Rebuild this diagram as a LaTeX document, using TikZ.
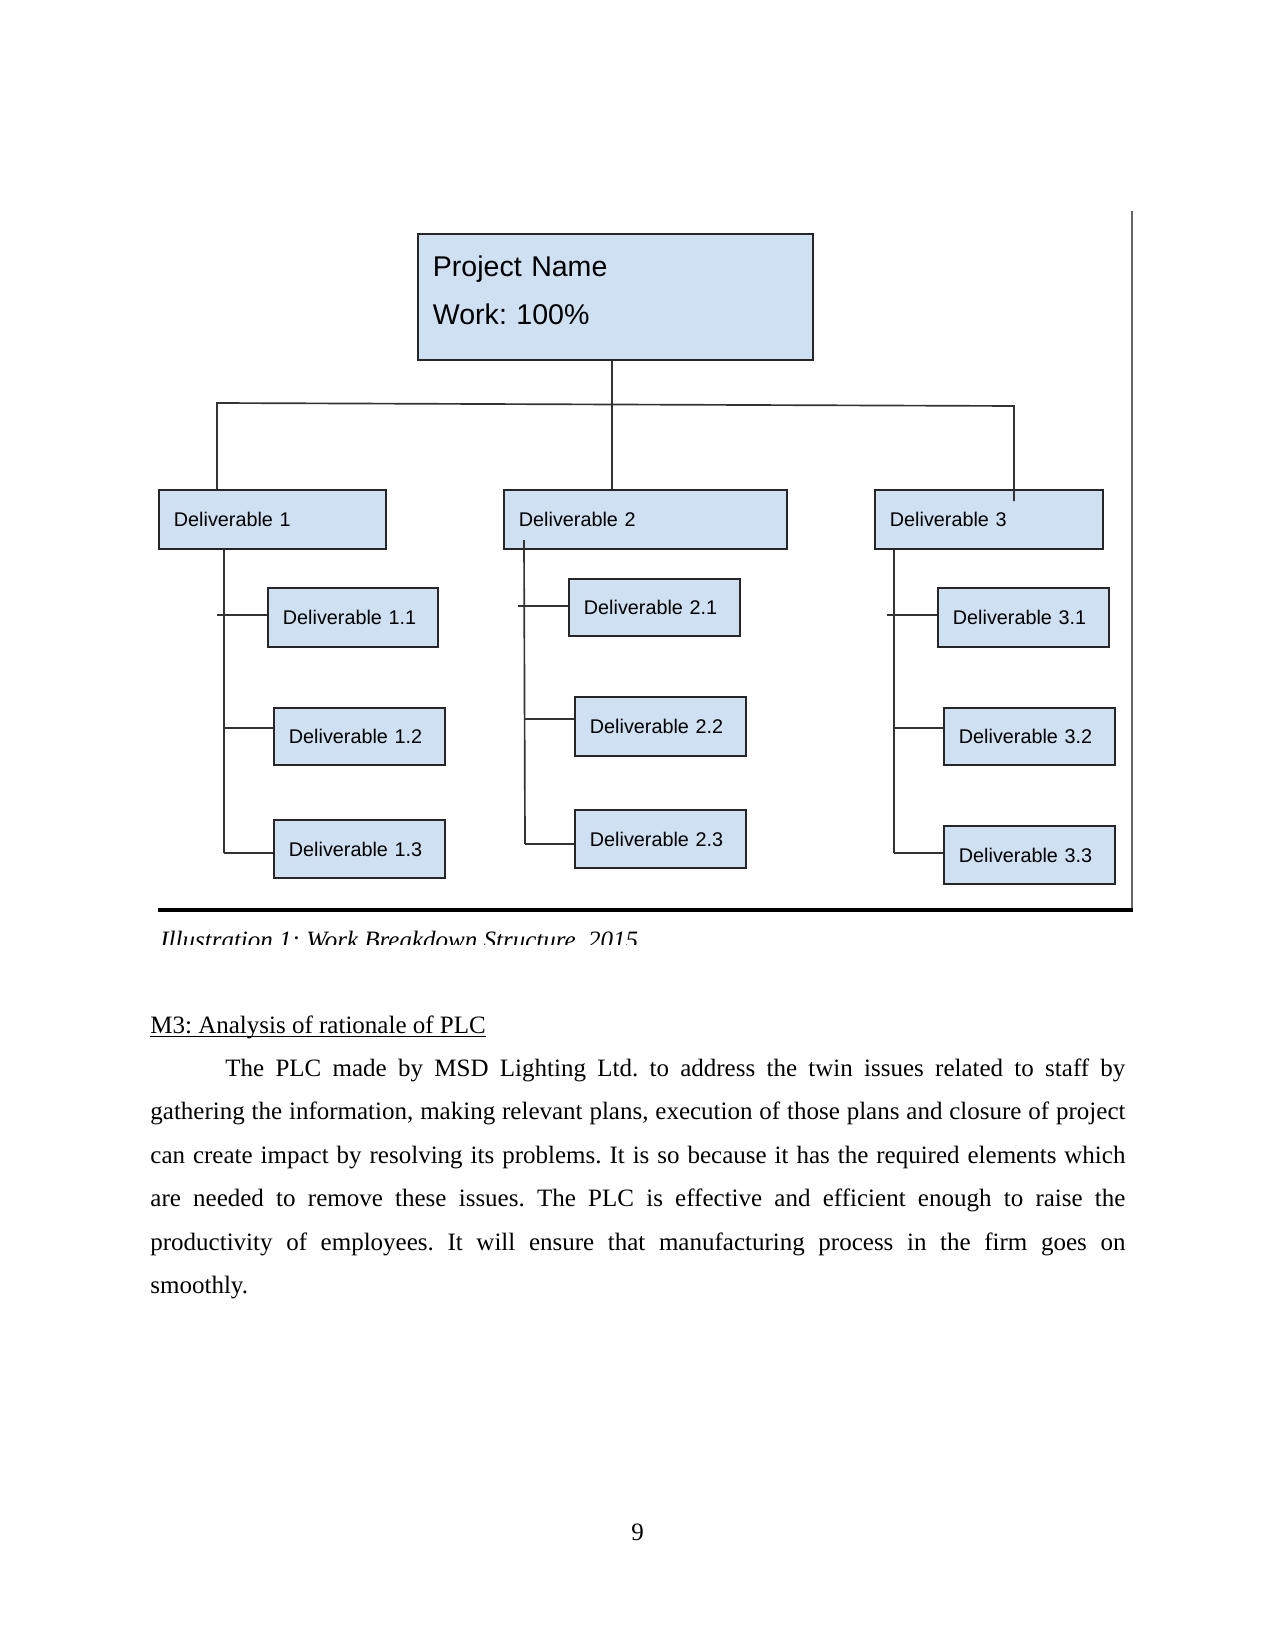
\documentclass[tikz,border=0pt]{standalone}
\usepackage{fontspec}
\setmainfont{Liberation Serif}
\newfontfamily\arialfont{Liberation Sans}
\newlength{\pxu}
\setlength{\pxu}{0.48pt}
\definecolor{boxblue}{RGB}{206,224,241}
\frenchspacing

\begin{document}
\begin{tikzpicture}[x=0.48pt, y=-0.48pt,
  wbsbox/.style={draw=black!85, line width=0.9pt, fill=boxblue, anchor=north west,
    inner xsep=15\pxu, inner ysep=0pt, align=left, minimum height=59\pxu,
    text width=141\pxu, font=\arialfont\fontsize{9.5}{11}\selectfont},
  wbsline/.style={draw=black!80, line width=0.8pt},
  textline/.style={anchor=base west, inner sep=0pt, font=\fontsize{12}{14}\selectfont}]
\useasboundingbox (0,0) rectangle (1275,1650);

% top level
\node[wbsbox, text width=365\pxu, minimum height=126\pxu,
  font=\arialfont\fontsize{13.7}{23}\selectfont] (proj) at (417,233)
  {Project Name\\Work: 100\%\rule[-13\pxu]{0pt}{1\pxu}};

% deliverables
\node[wbsbox, text width=197\pxu] (d1) at (158,489) {Deliverable 1};
\node[wbsbox, text width=253\pxu] (d2) at (503,489) {Deliverable 2};
\node[wbsbox, text width=198\pxu] (d3) at (874,489) {Deliverable 3};

\node[wbsbox, text width=140\pxu] (d11) at (267,587) {Deliverable 1.1};
\node[wbsbox, minimum height=57\pxu] (d12) at (273,707) {Deliverable 1.2};
\node[wbsbox, minimum height=58\pxu] (d13) at (273,819) {Deliverable 1.3};

\node[wbsbox, minimum height=57\pxu] (d21) at (568,578) {Deliverable 2.1};
\node[wbsbox] (d22) at (574,696) {Deliverable 2.2};
\node[wbsbox, minimum height=58\pxu] (d23) at (574,809) {Deliverable 2.3};

\node[wbsbox] (d31) at (937,587) {Deliverable 3.1};
\node[wbsbox, minimum height=57\pxu] (d32) at (943,707) {Deliverable 3.2};
\node[wbsbox, minimum height=58\pxu] (d33) at (943,825) {Deliverable 3.3};

% bus
\coordinate (busL) at (217,403);
\coordinate (busR) at (1014,406);
\coordinate (stub3) at (1014,501);
\coordinate (busM) at (612,404);
\draw[wbsline] (busM |- proj.south) -- (busM |- d2.north);
\draw[wbsline] (d1.north -| busL) -- (busL) -- (busR) -- (stub3);

% trunk 1
\coordinate (t1) at (224,853);
\coordinate (b11) at (217,615);
\coordinate (b12) at (224,728);
\draw[wbsline] (t1 |- d1.south) -- (t1);
\draw[wbsline] (b11) -- (b11 -| d11.west);
\draw[wbsline] (b12) -- (b12 -| d12.west);
\draw[wbsline] (t1) -- (t1 -| d13.west);

% trunk 2
\coordinate (t2top) at (524,540);
\coordinate (t2) at (525,844);
\coordinate (b21) at (518,606);
\coordinate (b22) at (525,719);
\draw[wbsline] (t2top) -- (t2);
\draw[wbsline] (b21) -- (b21 -| d21.west);
\draw[wbsline] (b22) -- (b22 -| d22.west);
\draw[wbsline] (t2) -- (t2 -| d23.west);

% trunk 3
\coordinate (t3) at (894,853);
\coordinate (b31) at (887,615);
\coordinate (b32) at (894,728);
\draw[wbsline] (t3 |- d3.south) -- (t3);
\draw[wbsline] (b31) -- (b31 -| d31.west);
\draw[wbsline] (b32) -- (b32 -| d32.west);
\draw[wbsline] (t3) -- (t3 -| d33.west);

% frame of the figure
\draw[black!60, line width=1pt] (1132,211) -- (1132,910);
\draw[black, line width=1.5pt] (158,910) -- (1133,910);

% caption, cut off
\begin{scope}
\clip (150,900) rectangle (700,944);
\node[textline, font=\fontsize{12}{14}\selectfont\itshape] (caption) at (160,948)
  {Illustration 1: Work Breakdown Structure, 2015};
\end{scope}

% text below
\node[textline] (head) at (150,1033) {M3: Analysis of rationale of PLC};
\draw[line width=0.6pt] ([yshift=-1.5pt]head.base west) -- ([yshift=-1.5pt]head.base east);

\node[textline] (l1) at (225,1076) {\makebox[900\pxu][s]{The PLC made by MSD Lighting Ltd. to address the twin issues related to staff by}};
\node[textline] (l2) at (150,1119) {\makebox[975\pxu][s]{gathering the information, making relevant plans, execution of those plans and closure of project}};
\node[textline] (l3) at (150,1163) {\makebox[975\pxu][s]{can create impact by resolving its problems. It is so because it has the required elements which}};
\node[textline] (l4) at (150,1206) {\makebox[975\pxu][s]{are needed to remove these issues. The PLC is effective and efficient enough to raise the}};
\node[textline] (l5) at (150,1250) {\makebox[975\pxu][s]{productivity of employees. It will ensure that manufacturing process in the firm goes on}};
\node[textline] (l6) at (150,1293) {smoothly.};

\node[anchor=base, inner sep=0pt, font=\fontsize{12}{14}\selectfont] (pagenum) at (637.5,1540) {9};
\end{tikzpicture}
\end{document}
